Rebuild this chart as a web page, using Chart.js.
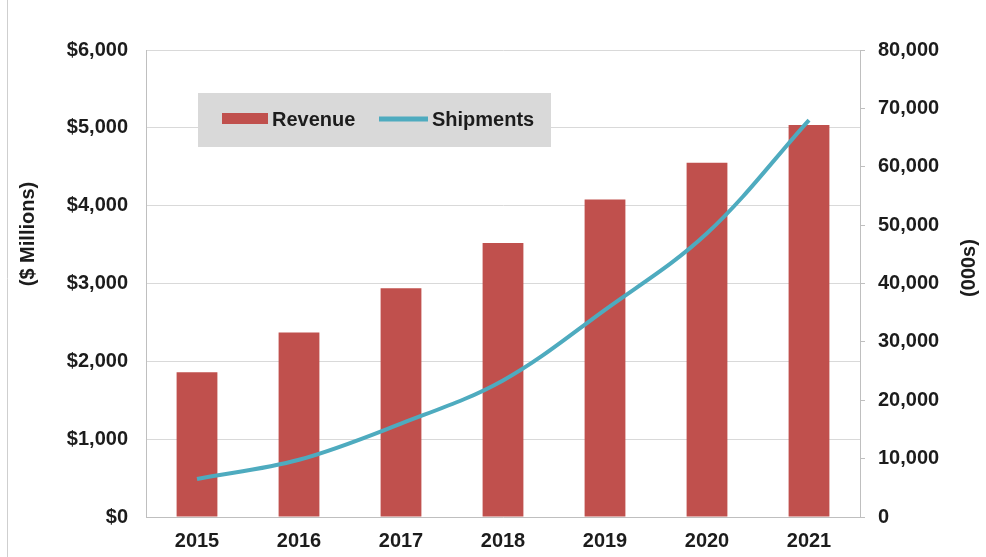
<!DOCTYPE html>
<html>
<head>
<meta charset="utf-8">
<script src="https://cdn.jsdelivr.net/npm/chart.js@4.4.1/dist/chart.umd.min.js"></script>
<style>
    html, body { margin: 0; padding: 0; background: #ffffff; }
    #wrap { position: relative; width: 986px; height: 557px; }
</style>
</head>
<body>
<div id="wrap"><canvas id="ventasChart" width="986" height="557"></canvas></div>
<script>
// datos
const anios = ["2015", "2016", "2017", "2018", "2019", "2020", "2021"];
const ingresos = [1860, 2370, 2940, 3520, 4080, 4550, 5035];      // $ millones
const envios = [6500, 9800, 16000, 23400, 35500, 48600, 68000];   // miles de unidades

const tituloIzq = "($ Millions)";
const tituloDer = "(000s)";

const COLOR_BARRA = "#c0504d";
const COLOR_LINEA = "#4eabbf";
const COLOR_TEXTO = "#1c1c1c";
const FUENTE = "'Liberation Sans', Arial, sans-serif";

// leyenda en caja gris + titulos de ejes + borde izquierdo
const extrasPlugin = {
    id: "extras",
    afterDraw(chart) {
        const ctx = chart.ctx;
        const area = chart.chartArea;
        ctx.save();

        // linea gris del borde izquierdo
        ctx.strokeStyle = "#cfcfcf";
        ctx.lineWidth = 1;
        ctx.beginPath();
        ctx.moveTo(7.5, 0);
        ctx.lineTo(7.5, chart.height);
        ctx.stroke();

        // caja de leyenda
        const bx = area.left + 52;
        const by = area.top + 43;
        ctx.fillStyle = "#d9d9d9";
        ctx.fillRect(bx, by, 353, 54);

        const ds = chart.data.datasets;
        const barras = ds.find((d) => d.type === "bar");
        const linea = ds.find((d) => d.type === "line");
        const cy = by + 27;
        ctx.font = "bold 20px " + FUENTE;
        ctx.textBaseline = "middle";
        ctx.textAlign = "left";

        ctx.fillStyle = barras.backgroundColor;
        ctx.fillRect(bx + 24, cy - 7, 46, 11);
        ctx.fillStyle = COLOR_TEXTO;
        ctx.fillText(barras.label, bx + 74, cy);

        ctx.strokeStyle = linea.borderColor;
        ctx.lineWidth = 5;
        ctx.beginPath();
        ctx.moveTo(bx + 181, cy - 1);
        ctx.lineTo(bx + 230, cy - 1);
        ctx.stroke();
        ctx.fillStyle = COLOR_TEXTO;
        ctx.fillText(linea.label, bx + 234, cy);

        // titulos de ejes
        ctx.textAlign = "center";
        ctx.save();
        ctx.translate(28, 234);
        ctx.rotate(-Math.PI / 2);
        ctx.fillText(tituloIzq, 0, 0);
        ctx.restore();

        ctx.save();
        ctx.translate(969, 268);
        ctx.rotate(-Math.PI / 2);
        ctx.fillText(tituloDer, 0, 0);
        ctx.restore();

        ctx.restore();
    },
};

function formatoDolar(v) {
    return "$" + v.toLocaleString("en-US");
}

function initGrafica() {
    const ctx = document.getElementById("ventasChart");

    new Chart(ctx, {
        data: {
            labels: anios,
            datasets: [
                {
                    type: "line",
                    label: "Shipments",
                    data: envios,
                    yAxisID: "y1",
                    borderColor: COLOR_LINEA,
                    borderWidth: 4,
                    pointRadius: 0,
                    tension: 0.35,
                    fill: false,
                    order: 0,
                },
                {
                    type: "bar",
                    label: "Revenue",
                    data: ingresos,
                    yAxisID: "y",
                    backgroundColor: COLOR_BARRA,
                    barPercentage: 0.4,
                    categoryPercentage: 1.0,
                    order: 1,
                },
            ],
        },
        options: {
            responsive: false,
            animation: false,
            layout: { padding: { top: 50, left: 0, right: 0, bottom: 0 } },
            plugins: {
                legend: { display: false },
                tooltip: { enabled: false },
            },
            scales: {
                x: {
                    grid: { display: false, drawTicks: false },
                    border: { color: "#bfbfbf" },
                    ticks: {
                        color: COLOR_TEXTO,
                        font: { family: FUENTE, size: 20, weight: "bold" },
                        padding: 12,
                    },
                    afterFit(scale) { scale.height = 40; },
                },
                y: {
                    position: "left",
                    min: 0,
                    max: 6000,
                    ticks: {
                        stepSize: 1000,
                        color: COLOR_TEXTO,
                        font: { family: FUENTE, size: 20, weight: "bold" },
                        padding: 18,
                        callback: (v) => formatoDolar(v),
                    },
                    grid: { color: "#d9d9d9", drawTicks: false },
                    border: { color: "#bfbfbf" },
                    afterFit(scale) { scale.width = 146; },
                },
                y1: {
                    position: "right",
                    min: 0,
                    max: 80000,
                    ticks: {
                        stepSize: 10000,
                        color: COLOR_TEXTO,
                        font: { family: FUENTE, size: 20, weight: "bold" },
                        padding: 13,
                        callback: (v) => v.toLocaleString("en-US"),
                    },
                    grid: {
                        drawOnChartArea: false,
                        drawTicks: true,
                        tickLength: 5,
                        tickColor: "#bfbfbf",
                    },
                    border: { color: "#bfbfbf" },
                    afterFit(scale) { scale.width = 126; },
                },
            },
        },
        plugins: [extrasPlugin],
    });
}

document.addEventListener("DOMContentLoaded", initGrafica);
</script>
</body>
</html>
